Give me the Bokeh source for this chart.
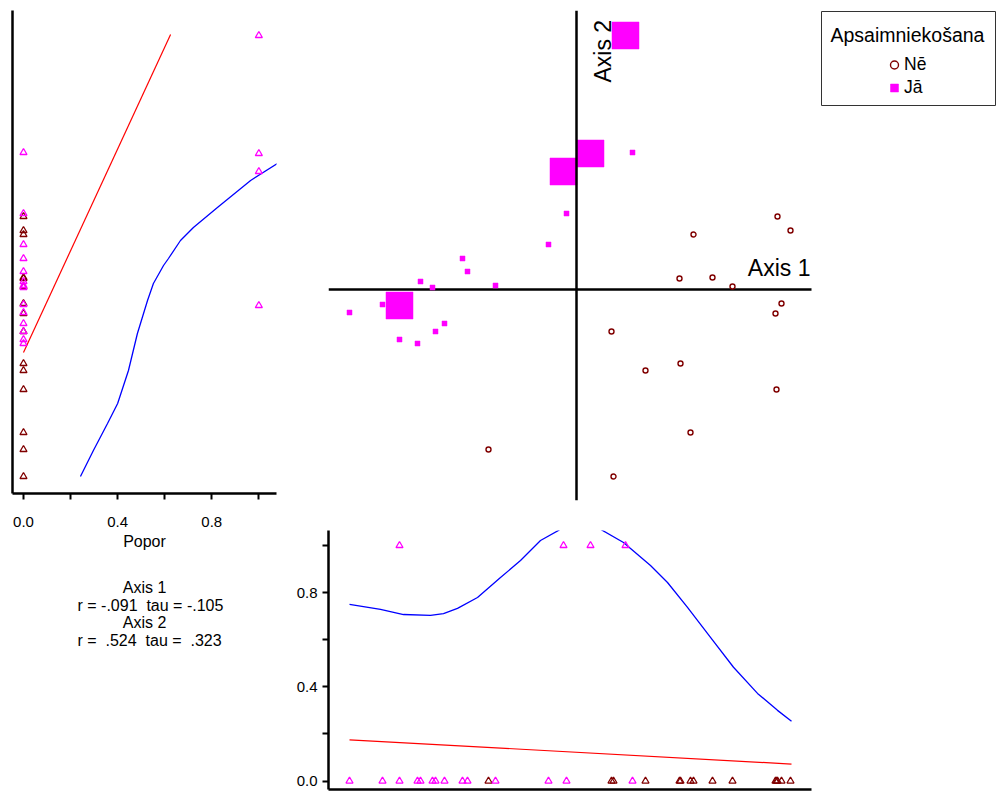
import math
from bokeh.plotting import figure
from bokeh.models import (Range1d, FixedTicker, PrintfTickFormatter, Span, Label,
                          Legend, LegendItem, BoxAnnotation)
from bokeh.layouts import row, column
from bokeh.embed import file_html
from bokeh.resources import INLINE

# ---------------- data ----------------
# group "Jā" (managed) : ordination scores and Popor value
ja_axis1 = [0.49, 0.14, -0.13, -1.77, 0.56, -0.10, -0.28, -1.14, -1.09, -1.56,
            -1.44, -0.81, -1.94, -2.27, -1.32, -1.41, -1.77, -1.59]
ja_axis2 = [2.54, 1.36, 1.18, -0.16, 1.37, 0.76, 0.45, 0.31, 0.18, 0.08,
            0.02, 0.04, -0.15, -0.23, -0.34, -0.42, -0.50, -0.54]
ja_popor = [1, 1, 1, 1, 0, 0, 0, 0, 0, 0, 0, 0, 0, 0, 0, 0, 0, 0]

# group "Nē" (not managed)
ne_axis1 = [2.01, 2.14, 1.17, 1.03, 1.36, 1.56, 2.05, 1.99, 0.35, 1.04,
            0.69, 2.00, 1.14, 0.37, -0.88]
ne_axis2 = [0.73, 0.59, 0.55, 0.11, 0.12, 0.03, -0.14, -0.24, -0.42, -0.74,
            -0.81, -1.00, -1.43, -1.87, -1.60]
ne_popor = [0, 0, 0, 0, 0, 0, 0, 0, 0, 0, 0, 0, 0, 0, 0]

# linear fit and smoothed curve: Popor vs Axis 2 (left panel)
lin2_popor = [0.0, 0.625]
lin2_axis2 = [-0.63, 2.55]
smooth2_popor = [0.242, 0.297, 0.357, 0.400, 0.446, 0.484, 0.527, 0.552, 0.595,
                 0.616, 0.667, 0.722, 0.824, 0.965, 1.079]
smooth2_axis2 = [-1.87, -1.61, -1.34, -1.14, -0.81, -0.44, -0.11, 0.06, 0.24,
                 0.31, 0.49, 0.62, 0.82, 1.09, 1.26]

# linear fit and smoothed curve: Popor vs Axis 1 (bottom panel)
lin1_axis1 = [-2.27, 2.15]
lin1_popor = [0.175, 0.072]
smooth1_axis1 = [-2.27, -1.96, -1.73, -1.46, -1.33, -1.19, -0.99, -0.76, -0.56,
                 -0.36, -0.18, -0.05, 0.04, 0.13, 0.26, 0.47, 0.74, 0.91, 1.11,
                 1.34, 1.57, 1.81, 2.01, 2.15]
smooth1_popor = [0.750, 0.729, 0.707, 0.703, 0.711, 0.733, 0.779, 0.864, 0.936,
                 1.021, 1.064, 1.11, 1.12, 1.10, 1.064, 1.013, 0.915, 0.843,
                 0.737, 0.610, 0.483, 0.372, 0.300, 0.254]

popor_ticks = [0.0, 0.4, 0.8]
popor_minor_ticks = [0.2, 0.6, 1.0]

group_labels = ["Nē", "Jā"]
legend_title = "Apsaimniekošana"
stat_headers = ["Axis 1", "Axis 2"]
stat_lines = ["r = -.091\u00a0 tau = -.105", "r =\u00a0 .524\u00a0 tau =\u00a0 .323"]

# ---------------- style ----------------
FONT = "Liberation Sans"
MAG = "#FF00FF"
DRED = "#800000"

ja_sizes = [5 + 22 * v for v in ja_popor]


def base(p):
    p.outline_line_color = None
    p.background_fill_color = "white"
    p.border_fill_color = "white"
    p.frame_align = False
    for g in p.grid:
        g.visible = False


def style_popor_axis(ax, label=None):
    ax.ticker = FixedTicker(ticks=popor_ticks, minor_ticks=popor_minor_ticks)
    ax.formatter = PrintfTickFormatter(format="%.1f")
    ax.major_tick_in = 0
    ax.major_tick_out = 6
    ax.minor_tick_in = 0
    ax.minor_tick_out = 6
    ax.major_tick_line_width = 2
    ax.minor_tick_line_width = 2
    ax.major_tick_line_color = "black"
    ax.minor_tick_line_color = "black"
    ax.axis_line_width = 2.5
    ax.axis_line_color = "black"
    ax.major_label_text_font = FONT
    ax.major_label_text_font_size = "15px"
    ax.major_label_text_color = "black"
    if label:
        ax.axis_label = label
        ax.axis_label_text_font = FONT
        ax.axis_label_text_font_size = "16px"
        ax.axis_label_text_font_style = "normal"
        ax.axis_label_text_color = "black"


def style_bare_axis(ax):
    ax.ticker = FixedTicker(ticks=[])
    ax.major_tick_in = 0
    ax.major_tick_out = 0
    ax.minor_tick_in = 0
    ax.minor_tick_out = 0
    ax.major_label_text_font_size = "0px"
    ax.major_label_standoff = 0
    ax.axis_line_width = 2.5
    ax.axis_line_color = "black"


# ---------------- left panel: Popor (x) vs Axis 2 (y) ----------------
p_left = figure(width=290, height=553, x_range=Range1d(-0.0467, 1.075),
                y_range=Range1d(-2.04, 2.79), output_backend="svg",
                toolbar_location=None, min_border_left=12, min_border_right=14,
                min_border_top=10, min_border_bottom=60)
base(p_left)
style_popor_axis(p_left.xaxis[0], "Popor")
p_left.xaxis[0].major_label_standoff = 17
p_left.xaxis[0].axis_label_standoff = 3
style_bare_axis(p_left.yaxis[0])

p_left.line(lin2_popor, lin2_axis2, line_color="#FF0000", line_width=1.2)
p_left.line(smooth2_popor, smooth2_axis2, line_color="#0000FF", line_width=1.3)
p_left.scatter(ne_popor, ne_axis2, marker="triangle", size=7, fill_color=None,
               line_color=DRED, line_width=1.3)
p_left.scatter(ja_popor, ja_axis2, marker="triangle", size=7, fill_color=None,
               line_color=MAG, line_width=1.3)

# ---------------- stats text ----------------
p_text = figure(width=290, height=239, x_range=Range1d(0, 290), y_range=Range1d(0, 239),
                output_backend="svg", toolbar_location=None,
                x_axis_location=None, y_axis_location=None, min_border=0)
base(p_text)
hdr_y = [205, 170]
line_y = [187.5, 152.5]
for t, yy in zip(stat_headers, hdr_y):
    p_text.add_layout(Label(x=144, y=yy, text=t, text_align="center",
                            text_baseline="alphabetic", text_font=FONT,
                            text_font_size="16px", text_color="black"))
for t, yy in zip(stat_lines, line_y):
    p_text.add_layout(Label(x=77, y=yy, text=t, text_align="left",
                            text_baseline="alphabetic", text_font=FONT,
                            text_font_size="16px", text_color="black"))

# ---------------- main ordination panel ----------------
X_LO, X_HI_AXIS, X_HI = -2.48, 2.35, 4.20
p_main = figure(width=706, height=510, x_range=Range1d(X_LO, X_HI),
                y_range=Range1d(-2.11, 2.79), output_backend="svg",
                toolbar_location=None, x_axis_location=None, y_axis_location=None,
                min_border_left=38, min_border_right=0, min_border_top=10,
                min_border_bottom=10)
base(p_main)
p_main.add_layout(Span(location=0, dimension="height", line_color="black", line_width=2.5))
p_main.segment(x0=[X_LO], y0=[0], x1=[X_HI_AXIS], y1=[0], line_color="black", line_width=2.5)
p_main.add_layout(Label(x=2.34, y=0.215, text="Axis 1", text_align="right",
                        text_baseline="alphabetic", text_font=FONT,
                        text_font_size="23px", text_color="black"))
p_main.add_layout(Label(x=0.265, y=2.07, text="Axis 2", text_align="left",
                        text_baseline="alphabetic", angle=math.pi / 2,
                        text_font=FONT, text_font_size="23px", text_color="black"))

r_ne = p_main.scatter(ne_axis1, ne_axis2, marker="circle", size=5,
                      fill_color="white", line_color=DRED, line_width=1.4)
r_ja = p_main.scatter(ja_axis1, ja_axis2, marker="square", size=ja_sizes,
                      fill_color=MAG, line_color=MAG, line_width=0.5)

p_main.add_layout(BoxAnnotation(left=2.45, right=4.19, top=2.78, bottom=1.84,
                                fill_alpha=0, line_color="#333333", line_width=1,
                                line_alpha=1))
p_main.add_layout(Label(x=2.54, y=2.55, text=legend_title, text_align="left",
                        text_baseline="alphabetic", text_font=FONT,
                        text_font_size="19.5px", text_color="black"))
legend = Legend(items=[LegendItem(label=group_labels[0], renderers=[r_ne]),
                       LegendItem(label=group_labels[1], renderers=[r_ja])],
                location=(556, 401), border_line_color=None, background_fill_alpha=0,
                padding=0, margin=0, spacing=0, glyph_width=20, glyph_height=23,
                label_height=23, label_standoff=0, label_text_font=FONT,
                label_text_font_size="17.5px", label_text_color="black")
p_main.add_layout(legend)

# ---------------- bottom panel: Axis 1 (x) vs Popor (y) ----------------
p_bot = figure(width=706, height=282, x_range=Range1d(X_LO, X_HI_AXIS),
               y_range=Range1d(-0.036, 1.0637), output_backend="svg",
               toolbar_location=None, min_border_left=38, min_border_right=185,
               min_border_top=20, min_border_bottom=3)
base(p_bot)
style_popor_axis(p_bot.yaxis[0])
p_bot.yaxis[0].major_label_standoff = 5
style_bare_axis(p_bot.xaxis[0])

p_bot.line(lin1_axis1, lin1_popor, line_color="#FF0000", line_width=1.2)
p_bot.line(smooth1_axis1, smooth1_popor, line_color="#0000FF", line_width=1.3)
p_bot.scatter(ne_axis1, ne_popor, marker="triangle", size=7, fill_color=None,
              line_color=DRED, line_width=1.3)
p_bot.scatter(ja_axis1, ja_popor, marker="triangle", size=7, fill_color=None,
              line_color=MAG, line_width=1.3)

layout = row(column(p_left, p_text), column(p_main, p_bot))

open("out.html", "w").write(file_html(layout, INLINE))
